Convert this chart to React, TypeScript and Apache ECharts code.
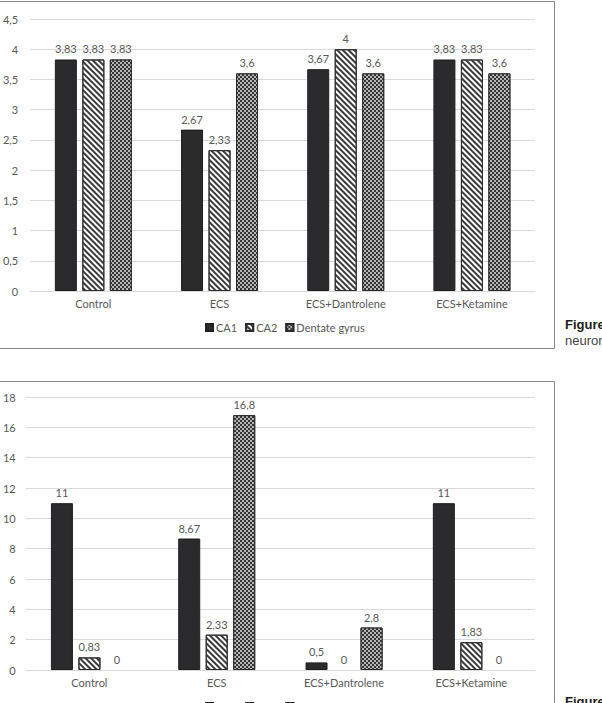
import React, { useEffect, useRef } from "react";
import * as echarts from "echarts";

const categories = ["Control", "ECS", "ECS+Dantrolene", "ECS+Ketamine"];
const seriesNames = ["CA1", "CA2", "Dentate gyrus"];
const topCA1 = [3.83, 2.67, 3.67, 3.83];
const topCA2 = [3.83, 2.33, 4, 3.83];
const topDG = [3.83, 3.6, 3.6, 3.6];
const botCA1 = [11, 8.67, 0.5, 11];
const botCA2 = [0.83, 2.33, 0, 1.83];
const botDG = [0, 16.8, 2.8, 0];

const FONT = "Lato";
const TXT = "#595959";
const GRID = "#d9d9d9";

const comma = (v: any) => String(v).replace(".", ",");

const styles: any[] = [
  { color: "#2b2b2e", borderColor: "#1f1f1f", borderWidth: 1 },
  {
    color: "#ffffff",
    borderColor: "#2e2e2e",
    borderWidth: 1,
    decal: {
      symbol: "rect",
      symbolSize: 1,
      color: "#3a3a3a",
      dashArrayX: [1, 0],
      dashArrayY: [1.5, 1.5],
      rotation: Math.PI / 4,
    },
  },
  {
    color: "#363636",
    borderColor: "#2a2a2a",
    borderWidth: 1,
    decal: {
      symbol: "rect",
      symbolSize: 1,
      color: "#b5b5b5",
      dashArrayX: [[1.5, 1.5], [0, 1.5, 1.5, 0]],
      dashArrayY: [1.5, 0],
      rotation: 0,
    },
  },
];

function mkSeries(idx: number, data: number[], name: string, si: number) {
  return {
    type: "bar",
    name,
    xAxisIndex: idx,
    yAxisIndex: idx,
    data: data.map((v) =>
      v === 0
        ? { value: v, itemStyle: { borderWidth: 0, borderColor: "rgba(0,0,0,0)" } }
        : v
    ),
    barWidth: 22,
    barGap: "25%",
    itemStyle: styles[si],
    label: {
      show: true,
      position: "top",
      distance: 5,
      color: TXT,
      fontSize: 11,
      fontFamily: FONT,
      formatter: (p: any) => comma(p.value),
    },
  };
}

export default function App() {
  const ref = useRef<HTMLDivElement>(null);
  useEffect(() => {
    if (!ref.current) return;
    const chart = echarts.init(ref.current, undefined, { renderer: "svg" });
    const xAxisBase = (gi: number) => ({
      type: "category",
      gridIndex: gi,
      data: categories,
      axisLine: { lineStyle: { color: GRID } },
      axisTick: { show: false },
      axisLabel: { color: TXT, fontSize: 11, fontFamily: FONT, margin: 7 },
    });
    const yAxisBase = (gi: number, max: number, interval: number, margin: number) => ({
      type: "value",
      gridIndex: gi,
      min: 0,
      max,
      interval,
      axisLine: { show: false },
      axisTick: { show: false },
      splitLine: { lineStyle: { color: GRID, width: 1 } },
      axisLabel: {
        color: TXT,
        fontSize: 11,
        fontFamily: FONT,
        margin,
        formatter: (v: number) => comma(v),
      },
    });
    const legendBase = (top: number) => ({
      top,
      left: 200,
      itemWidth: 7,
      itemHeight: 7,
      itemGap: 8,
      icon: "rect",
      data: seriesNames,
      textStyle: { color: TXT, fontSize: 11, fontFamily: FONT, padding: [0, 0, 0, -2] },
    });
    chart.setOption({
      animation: false,
      backgroundColor: "#ffffff",
      grid: [
        { left: 29, top: 19, width: 506, height: 272 },
        { left: 25, top: 397, width: 510, height: 273 },
      ],
      xAxis: [xAxisBase(0), xAxisBase(1)],
      yAxis: [yAxisBase(0, 4.5, 0.5, 12), yAxisBase(1, 18, 2, 10)],
      legend: [legendBase(317), legendBase(696)],
      series: [
        mkSeries(0, topCA1, seriesNames[0], 0),
        mkSeries(0, topCA2, seriesNames[1], 1),
        mkSeries(0, topDG, seriesNames[2], 2),
        mkSeries(1, botCA1, seriesNames[0], 0),
        mkSeries(1, botCA2, seriesNames[1], 1),
        mkSeries(1, botDG, seriesNames[2], 2),
      ],
      graphic: [
        {
          type: "rect",
          silent: true,
          shape: { x: -2, y: 1.5, width: 556.5, height: 347 },
          style: { fill: "none", stroke: "#8a8a8a", lineWidth: 1 },
        },
        {
          type: "rect",
          silent: true,
          shape: { x: -2, y: 381.5, width: 556.5, height: 400 },
          style: { fill: "none", stroke: "#8a8a8a", lineWidth: 1 },
        },
        {
          type: "text",
          left: 565,
          top: 318,
          style: { text: "Figure", fill: "#222", font: "bold 13px 'Liberation Sans'" },
        },
        {
          type: "text",
          left: 565,
          top: 334,
          style: { text: "neuron", fill: "#444", font: "13px 'Liberation Sans'" },
        },
        {
          type: "text",
          left: 565,
          top: 695,
          style: { text: "Figure", fill: "#222", font: "bold 13px 'Liberation Sans'" },
        },
      ],
    });
    return () => chart.dispose();
  }, []);
  return (
    <div
      ref={ref}
      style={{ position: "absolute", left: 0, top: 0, width: 602, height: 703 }}
    />
  );
}
